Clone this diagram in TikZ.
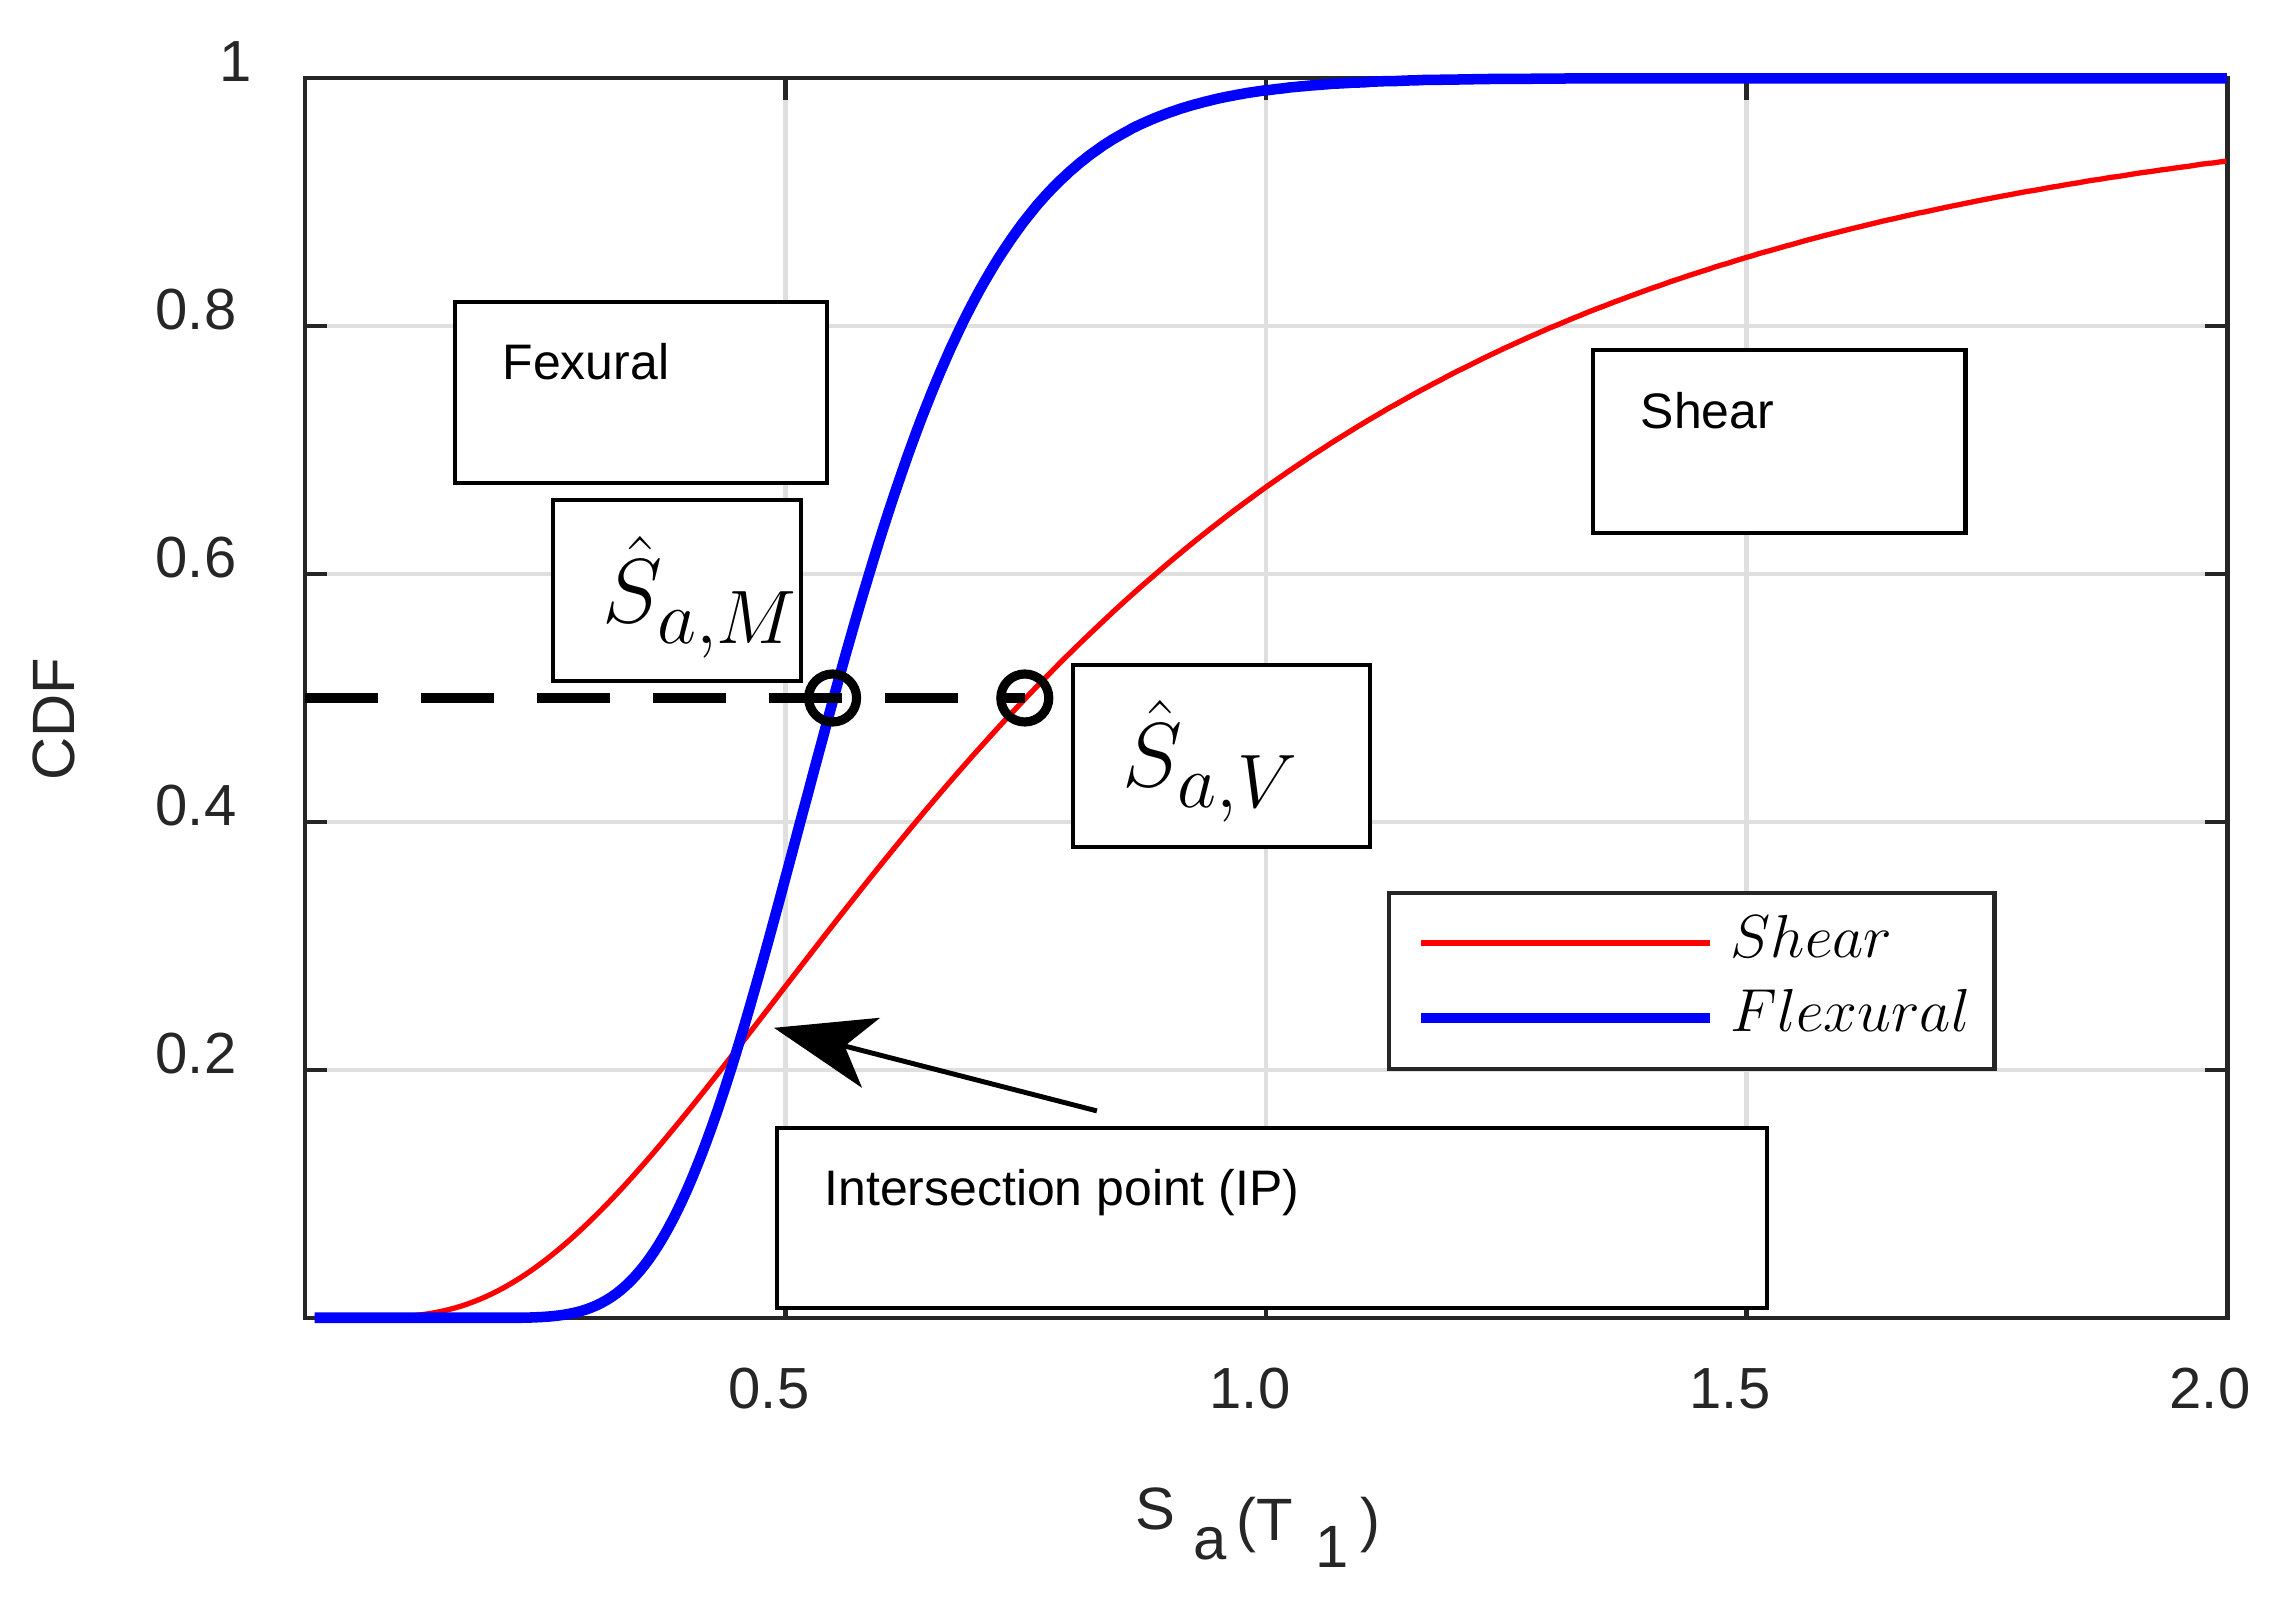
\documentclass[tikz,border=0pt]{standalone}
\usepackage[no-math]{fontspec}
\setmainfont{Liberation Sans}
\usetikzlibrary{arrows.meta}
\definecolor{axgray}{HTML}{262626}
\definecolor{gridgray}{HTML}{DFDFDF}
\tikzset{
  gridline/.style={gridgray, line width=1.2pt},
  axisline/.style={axgray, line width=1.4pt},
  tickline/.style={axgray, line width=1.4pt},
  ticklab/.style={axgray, font=\fontsize{16.5}{20}\selectfont, inner sep=0pt},
  axislab/.style={axgray, font=\fontsize{17}{20}\selectfont, inner sep=0pt},
  annobox/.style={draw=black, fill=white, line width=1.4pt},
  annotext/.style={black, font=\fontsize{14.2}{17}\selectfont, inner sep=0pt, anchor=base west},
  mathlab/.style={black, font=\fontsize{24.88}{30}\selectfont, inner sep=0pt, anchor=base west},
  legtext/.style={black, font=\fontsize{17.28}{20}\selectfont, inner sep=0pt, anchor=base west},
  shearline/.style={red, line width=1.5pt, line join=round},
  flexline/.style={blue, line width=3pt, line join=round},
  dashline/.style={black, line width=2.8pt, dash pattern=on 0.73cm off 0.43cm},
  marker/.style={black, line width=2.6pt},
  arrowline/.style={black, line width=1.4pt, -{Stealth[length=1.0cm, width=0.72cm, inset=0.27cm]}},
  declare function={
    zz(\x,\m,\b)=max(-3.5,min(3.5,ln(\x/\m)/\b));
    lnc(\x,\m,\b)=1/(1+exp(-(1.5976*zz(\x,\m,\b)+0.07056*zz(\x,\m,\b)*zz(\x,\m,\b)*zz(\x,\m,\b))));
  }
}
\begin{document}
\begin{tikzpicture}
\useasboundingbox (0,0) rectangle (22.76,16);
\fill[white] (0,0) rectangle (22.76,16);

\begin{scope}[shift={(3.05cm,2.82cm)}, x=9.61cm, y=12.40cm]
  % grid
  \foreach \gx in {0.5,1.0,1.5} \draw[gridline] (\gx,0) -- (\gx,1);
  \foreach \gy in {0.2,0.4,0.6,0.8} \draw[gridline] (0,\gy) -- (2,\gy);
  % ticks
  \foreach \gy in {0.2,0.4,0.6,0.8} {
    \draw[tickline] (0,\gy) -- ++(0.22cm,0);
    \draw[tickline] (2,\gy) -- ++(-0.22cm,0);
  }
  \foreach \gx in {0.5,1.0,1.5} {
    \draw[tickline] (\gx,0) -- ++(0,0.22cm);
    \draw[tickline] (\gx,1) -- ++(0,-0.22cm);
  }
  % axes box
  \draw[axisline] (0,0) rectangle (2,1);
  % curves
  \draw[shearline] plot[domain=0.01:2, samples=300] (\x,{lnc(\x,0.75,0.654)});
  \draw[flexline] plot[domain=0.01:2, samples=400] (\x,{lnc(\x,0.55,0.257)});
  % median markers
  \coordinate (dstart) at (0,0.5);
  \coordinate (cM) at (0.549,0.5);
  \coordinate (cV) at (0.749,0.5);
  \draw[dashline] (dstart) -- (cV);
  \draw[marker] (cM) circle[radius=0.24cm];
  \draw[marker] (cV) circle[radius=0.24cm];
  % arrow coordinates
  \coordinate (arrtail) at (0.824,0.167);
  \coordinate (arrtip) at (0.488,0.234);
\end{scope}

% tick labels
\node[ticklab, anchor=base east] (yl1) at (2.52,15.18) {1};
\node[ticklab, anchor=base east] (yl08) at (2.37,12.70) {0.8};
\node[ticklab, anchor=base east] (yl06) at (2.37,10.22) {0.6};
\node[ticklab, anchor=base east] (yl04) at (2.37,7.74) {0.4};
\node[ticklab, anchor=base east] (yl02) at (2.37,5.26) {0.2};
\node[ticklab, anchor=base] (xl05) at (7.69,1.91) {0.5};
\node[ticklab, anchor=base] (xl10) at (12.50,1.91) {1.0};
\node[ticklab, anchor=base] (xl15) at (17.30,1.91) {1.5};
\node[ticklab, anchor=base] (xl20) at (22.10,1.91) {2.0};

% axis labels
\node[axislab, rotate=90] (ylab) at (0.54,8.81) {CDF};
\node[axislab, anchor=base west] (xlab) at (11.35,0.60)
  {\raisebox{0.11cm}{S}\hspace{0.175cm}\raisebox{-0.19cm}{a}\hspace{0.10cm}(T\hspace{0.23cm}\raisebox{-0.27cm}{1}\hspace{0.12cm})};

% annotation boxes
\path[annobox] (4.55,12.98) rectangle (8.27,11.17);
\node[annotext] (tfex) at (5.02,12.20) {Fexural};
\path[annobox] (5.53,11.00) rectangle (8.01,9.19);
\node[mathlab] (tsm) at (6.02,9.77) {\scalebox{1.04}{$\hat{S}_{a,M}$}};
\path[annobox] (15.93,12.50) rectangle (19.65,10.67);
\node[annotext] (tshear) at (16.40,11.71) {Shear};
\path[annobox] (10.73,9.35) rectangle (13.70,7.53);
\node[mathlab] (tsv) at (11.22,8.13) {\scalebox{1.04}{$\hat{S}_{a,V}$}};
\path[annobox] (7.77,4.72) rectangle (17.67,2.92);
\node[annotext] (tip) at (8.24,3.94) {Intersection point (IP)};

% arrow
\draw[arrowline] (arrtail) -- (arrtip);

% legend
\path[annobox, draw=axgray] (13.89,7.07) rectangle (19.94,5.31);
\coordinate (lr1) at (14.21,6.57);
\coordinate (lr2) at (17.10,6.57);
\coordinate (lb1) at (14.21,5.82);
\coordinate (lb2) at (17.10,5.82);
\draw[shearline] (lr1) -- (lr2);
\draw[flexline] (lb1) -- (lb2);
\node[legtext] (lgs) at (17.30,6.42) {$Shear$};
\node[legtext] (lgf) at (17.30,5.68) {$Flexural$};
\end{tikzpicture}
\end{document}
